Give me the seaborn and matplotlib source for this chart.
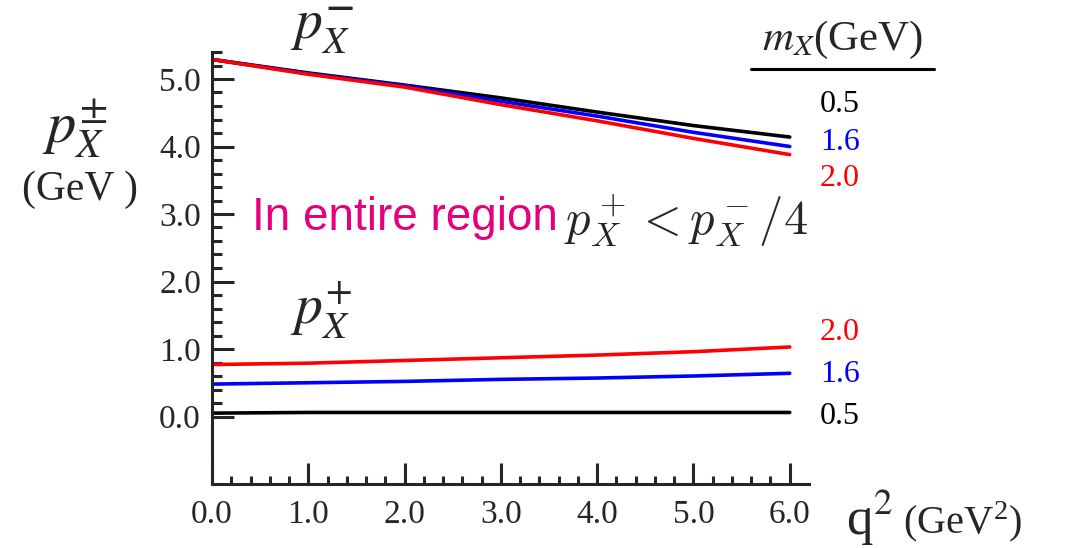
import numpy as np
import pandas as pd
import matplotlib
matplotlib.use("Agg")
import matplotlib.pyplot as plt
from matplotlib.ticker import FixedLocator, FormatStrFormatter
import seaborn as sns

# q^2 grid (GeV^2)
q2 = [0.0, 1.0, 2.0, 3.0, 4.0, 5.0, 6.0]
masses = ["0.5", "1.6", "2.0"]

# p_X^- (GeV) for each m_X
pminus_05 = [5.29, 5.09, 4.91, 4.72, 4.51, 4.31, 4.14]
pminus_16 = [5.29, 5.08, 4.90, 4.67, 4.45, 4.21, 4.00]
pminus_20 = [5.29, 5.07, 4.88, 4.62, 4.38, 4.12, 3.88]

# p_X^+ (GeV) for each m_X
pplus_05 = [0.05, 0.06, 0.06, 0.06, 0.06, 0.06, 0.06]
pplus_16 = [0.48, 0.50, 0.52, 0.55, 0.57, 0.60, 0.64]
pplus_20 = [0.77, 0.79, 0.83, 0.87, 0.91, 0.96, 1.03]

colors = {"0.5": "black", "1.6": "#0000ff", "2.0": "#ff0000"}

rows = []
for comp, series in [("minus", [pminus_05, pminus_16, pminus_20]),
                     ("plus", [pplus_05, pplus_16, pplus_20])]:
    for m, vals in zip(masses, series):
        for x, v in zip(q2, vals):
            rows.append({"q2": x, "p": v, "mX": m, "comp": comp})
df = pd.DataFrame(rows)

sns.set_style("ticks")
plt.rcParams["font.family"] = ["Liberation Serif", "DejaVu Serif"]
plt.rcParams["mathtext.fontset"] = "stix"

W, H = 1066, 548
fig = plt.figure(figsize=(W / 100, H / 100), dpi=100)
ax = fig.add_axes([212 / W, 1 - 484 / H, (809 - 212) / W, (484 - 52) / H])

for comp in ["minus", "plus"]:
    sub = df[df["comp"] == comp]
    sns.lineplot(data=sub, x="q2", y="p", hue="mX", palette=colors,
                 linewidth=2.6, legend=False, ax=ax)

ax.set_xlim(0, 6.2)
ax.set_ylim(-1.0, 5.4)
ax.set_xlabel("")
ax.set_ylabel("")
sns.despine(ax=ax)
for s in ["left", "bottom"]:
    ax.spines[s].set_linewidth(2.2)

ax.xaxis.set_major_locator(FixedLocator(np.arange(0, 6.01, 1.0)))
ax.xaxis.set_minor_locator(FixedLocator(np.arange(0, 6.01, 0.2)))
ax.yaxis.set_major_locator(FixedLocator(np.arange(0, 5.01, 1.0)))
ax.yaxis.set_minor_locator(FixedLocator(np.arange(0, 5.41, 0.2)))
ax.xaxis.set_major_formatter(FormatStrFormatter("%.1f"))
ax.yaxis.set_major_formatter(FormatStrFormatter("%.1f"))
ax.tick_params(axis="x", which="major", direction="in", length=15, width=2.2, pad=11, labelsize=24)
ax.tick_params(axis="x", which="minor", direction="in", length=6, width=2.2)
ax.tick_params(axis="y", which="major", direction="in", length=16, width=2.2, pad=8, labelsize=24)
ax.tick_params(axis="y", which="minor", direction="in", length=7, width=2.2)


def ftext(x, y, s, **kw):
    fig.text(x / W, 1 - y / H, s, **kw)


# curve labels
ftext(290, 30, r"$p_X^{\mathbf{-}}$", fontsize=40, va="center", ha="left")
ftext(290, 310, r"$p_X^{+}$", fontsize=40, va="center", ha="left")
ftext(75, 128, r"$p_X^{\pm}$", fontsize=42, va="center", ha="center")
ftext(80, 190, "(GeV )", fontsize=30, va="center", ha="center")

# header for mass labels
ftext(843, 40, r"$m_X$(GeV)", fontsize=31, va="center", ha="center")
fig.add_artist(plt.Line2D([751 / W, 934 / W], [1 - 69 / H, 1 - 69 / H],
                          color="black", linewidth=2.2))

for m, y in zip(masses, [105, 143, 178]):
    ftext(820, y, m, fontsize=23, color=colors[m], va="center", ha="left")
for m, y in zip(masses, [416, 375, 333]):
    ftext(820, y, m, fontsize=23, color=colors[m], va="center", ha="left")

# annotation
ftext(252, 218, "In entire region", fontsize=33, color="#e6007e",
      family="Liberation Sans", va="center", ha="left")
ftext(564, 220, r"$p_X^+ < p_X^-/4$", fontsize=35, va="center", ha="left",
      math_fontfamily="cm")

# x-axis label
ftext(846, 518, r"q$^2$", fontsize=38, va="center", ha="left")
ftext(903, 522, r"(GeV$^{\mathregular{2}}$)", fontsize=29, va="center", ha="left")

fig.savefig("out.png", dpi=100)
